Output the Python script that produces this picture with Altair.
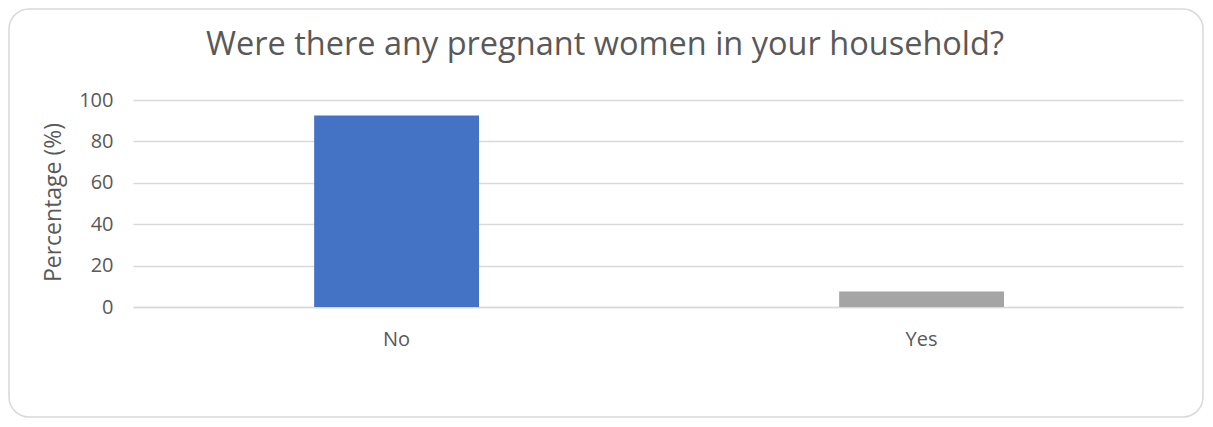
import altair as alt
import pandas as pd

categories = ["No", "Yes"]
percentages = [92.5, 7.5]
colors = ["#4472C4", "#A5A5A5"]
title_text = "Were there any pregnant women in your household?"

df = pd.DataFrame({"answer": categories, "pct": percentages})

FONT = "Open Sans"
TXT = "#595959"
GRID = "#D9D9D9"

bars = alt.Chart(df).mark_bar().encode(
    x=alt.X("answer:N", sort=categories,
            scale=alt.Scale(paddingInner=0.686, paddingOuter=0.343, align=0.503),
            axis=alt.Axis(title=None, labelAngle=0, ticks=False, domain=True,
                          domainColor=GRID, domainWidth=1.5,
                          labelPadding=22, labelFontSize=20, labelColor=TXT,
                          labelFont=FONT)),
    y=alt.Y("pct:Q", scale=alt.Scale(domain=[0, 100]),
            axis=alt.Axis(title="Percentage (%)", values=[0, 20, 40, 60, 80, 100],
                          ticks=False, domain=False, gridColor=GRID, gridWidth=1.5,
                          labelPadding=20, labelFontSize=20, labelColor=TXT,
                          labelFont=FONT, titleFont=FONT, titleFontSize=23,
                          titleFontWeight="normal", titleColor=TXT,
                          titleAngle=-90, titleX=-80, titleY=102,
                          titleAlign="center", titleBaseline="middle")),
    color=alt.Color("answer:N", scale=alt.Scale(domain=categories, range=colors),
                    legend=None),
)

frame = alt.Chart(pd.DataFrame({"k": [0]})).mark_rect(
    fill="transparent", stroke=GRID, strokeWidth=1.5, cornerRadius=20, clip=False
).encode(
    x=alt.value(-124), x2=alt.value(1070), y=alt.value(-91), y2=alt.value(317)
)

title = alt.Chart(pd.DataFrame({"t": [title_text]})).mark_text(
    font=FONT, fontSize=32.5, color=TXT, align="center", baseline="middle", clip=False
).encode(
    text="t:N", x=alt.value(472), y=alt.value(-55)
)

chart = alt.layer(frame, bars, title).properties(
    width=1050, height=207,
    autosize=alt.AutoSizeParams(type="none"),
    padding={"left": 125, "top": 92, "right": 22, "bottom": 112},
    background="white",
).configure_view(stroke=None)

chart.save("out.html", embed_options={"renderer": "svg", "actions": False})
